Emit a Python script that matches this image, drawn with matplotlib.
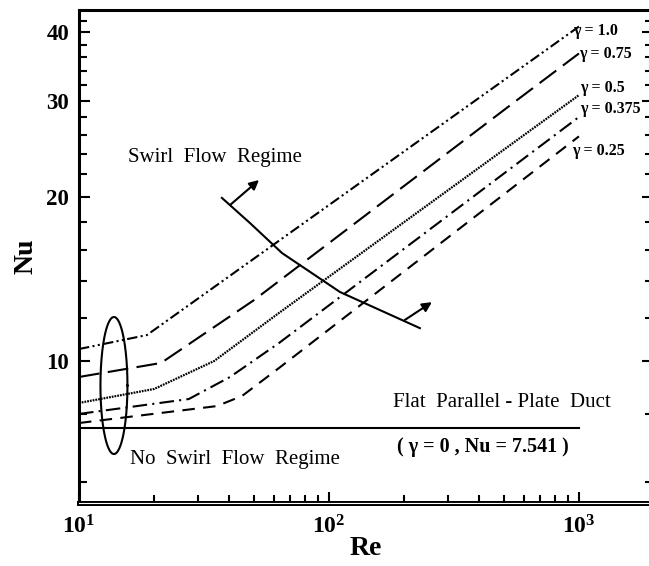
import matplotlib
matplotlib.use("Agg")
import matplotlib.pyplot as plt
import numpy as np
from matplotlib.ticker import FixedLocator, FixedFormatter, NullFormatter

plt.rcParams['font.family'] = ['Liberation Serif', 'DejaVu Serif']
plt.rcParams['mathtext.fontset'] = 'custom'
plt.rcParams['mathtext.rm'] = 'Liberation Serif'
plt.rcParams['mathtext.bf'] = 'Liberation Serif:bold'

# Nu vs Re for each twist ratio gamma
re_g100 = [10, 18.7, 1000]
nu_g100 = [10.52, 11.16, 41.0]

re_g075 = [10, 21.3, 50.1, 565, 1000]
nu_g075 = [9.35, 9.92, 12.93, 30.06, 36.6]

re_g050 = [10, 20, 34.7, 63.1, 1000]
nu_g050 = [8.38, 8.89, 10.0, 12.25, 30.7]

re_g0375 = [10, 27.5, 40.2, 63.1, 1000]
nu_g0375 = [8.0, 8.52, 9.35, 10.79, 28.0]

re_g025 = [10, 35.6, 44.9, 63.1, 1000]
nu_g025 = [7.70, 8.27, 8.63, 9.71, 25.8]

# flat parallel-plate duct
re_flat = [10, 1000]
nu_flat = [7.541, 7.541]

# swirl / no-swirl boundary line and its arrows
re_bound = [37.3, 48.3, 64.9, 110.7, 231]
nu_bound = [19.9, 17.9, 15.77, 13.38, 11.49]
arrow1 = ((40.2, 19.31), (52.5, 21.46))
arrow2 = ((201, 11.89), (258, 12.82))

# ellipse round the low-Re points (centre and half-axes in decades)
ell_re, ell_nu = 13.8, 9.02
ell_dx, ell_dy = 0.054, 0.1255

x_major = [10, 100, 1000]
x_major_labels = [r'$\mathbf{10^{1}}$', r'$\mathbf{10^{2}}$', r'$\mathbf{10^{3}}$']
x_minor = [20, 30, 40, 50, 60, 70, 80, 90, 200, 300, 400, 500, 600, 700, 800, 900]
y_major = [10, 20, 30, 40]
y_minor = [6, 8, 12, 14, 16, 18, 22, 24, 26, 28, 32, 34, 36, 38, 42]

fig = plt.figure(figsize=(6.49, 5.66), dpi=100)
ax = fig.add_axes([0.1217, 0.1113, 0.8844, 0.871])
ax.set_xscale('log')
ax.set_yscale('log')

lw = 1.5
ax.plot(re_g100, nu_g100, color='k', lw=lw, dashes=(5, 1.6, 1, 1.6, 1, 1.6))
ax.plot(re_g075, nu_g075, color='k', lw=lw, dashes=(10, 4))
ax.plot(re_g050, nu_g050, color='k', lw=1.6, dashes=(0.8, 0.45))
ax.plot(re_g0375, nu_g0375, color='k', lw=lw, dashes=(7, 2.5, 1, 2.5))
ax.plot(re_g025, nu_g025, color='k', lw=lw, dashes=(6, 4))
ax.plot(re_flat, nu_flat, color='k', lw=lw)

ax.plot(re_bound, nu_bound, color='k', lw=lw)
for base, tip in (arrow1, arrow2):
    ax.annotate('', xy=tip, xytext=base,
                arrowprops=dict(arrowstyle='-|>', lw=lw, color='k',
                                mutation_scale=14, shrinkA=0, shrinkB=0))

t = np.linspace(0, 2 * np.pi, 200)
ax.plot(10 ** (np.log10(ell_re) + ell_dx * np.cos(t)),
        10 ** (np.log10(ell_nu) + ell_dy * np.sin(t)), color='k', lw=lw)

# curve labels
gfont = dict(fontsize=11.5, fontweight='bold', va='center', ha='left')
ax.text(946, 40.3, 'γ = 1.0', **gfont)
ax.text(1000, 36.5, 'γ = 0.75', **gfont)
ax.text(1013, 31.6, 'γ = 0.5', **gfont)
ax.text(1013, 29.0, 'γ = 0.375', **gfont)
ax.text(935, 24.3, 'γ = 0.25', **gfont)

ax.text(15.7, 23.6, 'Swirl  Flow  Regime', fontsize=15, va='center', ha='left')
ax.text(16.0, 6.59, 'No  Swirl  Flow  Regime', fontsize=15, va='center', ha='left')
ax.text(492, 8.38, 'Flat  Parallel - Plate  Duct', fontsize=15, va='center', ha='center')
ax.text(413, 6.96, '( γ = 0 , Nu = 7.541 )', fontsize=14.5, fontweight='bold',
        va='center', ha='center')

ax.set_xlim(10, 1977)
ax.set_ylim(5.495, 43.96)

ax.xaxis.set_major_locator(FixedLocator(x_major))
ax.xaxis.set_major_formatter(FixedFormatter(x_major_labels))
ax.xaxis.set_minor_locator(FixedLocator(x_minor))
ax.xaxis.set_minor_formatter(NullFormatter())
ax.yaxis.set_major_locator(FixedLocator(y_major))
ax.yaxis.set_major_formatter(FixedFormatter([str(v) for v in y_major]))
ax.yaxis.set_minor_locator(FixedLocator(y_minor))
ax.yaxis.set_minor_formatter(NullFormatter())

ax.tick_params(which='both', direction='in', top=False, right=True, width=1.5)
ax.tick_params(which='major', length=8, pad=7)
ax.tick_params(which='minor', length=5.5)
ax.tick_params(axis='x', which='major', labelsize=17, pad=9)
ax.tick_params(axis='y', which='major', labelsize=16.5)
for lab in ax.get_xticklabels() + ax.get_yticklabels():
    lab.set_fontweight('bold')

for side in ('left', 'top', 'right'):
    ax.spines[side].set_linewidth(2.2)
ax.spines['bottom'].set_linewidth(3.6)
# double line along the bottom axis
ax.plot([0, 1], [0, 0], transform=ax.transAxes, color='white', lw=0.8,
        clip_on=False, zorder=10)

ax.set_xlabel('Re', fontsize=20, fontweight='bold', labelpad=-2)
ax.set_ylabel('Nu', fontsize=20, fontweight='bold', labelpad=6)

fig.savefig('out.png', dpi=100)
